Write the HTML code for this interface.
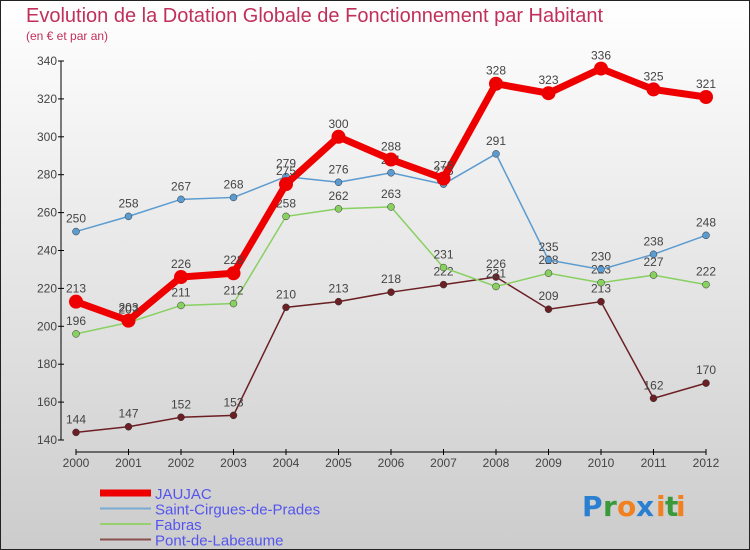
<!DOCTYPE html>
<html><head><meta charset="utf-8"><style>
body{margin:0;width:750px;height:550px;overflow:hidden;font-family:"Liberation Sans",sans-serif}
svg{display:block}
</style></head><body>
<svg id="c" width="750" height="550" xmlns="http://www.w3.org/2000/svg">
<defs><linearGradient id="bg" x1="0" y1="0" x2="0" y2="1"><stop offset="0" stop-color="#ffffff"/><stop offset="1" stop-color="#cccccc"/></linearGradient></defs>
<rect x="0.5" y="0.5" width="749" height="549" fill="url(#bg)" stroke="#222"/>
<text x="26" y="22" font-size="20" fill="#c0305a">Evolution de la Dotation Globale de Fonctionnement par Habitant</text>
<text x="26" y="40" font-size="12" fill="#c0305a">(en € et par an)</text>
<g id="axes"></g><g id="series"></g><g id="legend"></g>
<g font-size="28" font-family="'DejaVu Sans',sans-serif" font-weight="bold">
<text x="582" y="516" fill="#2a7fd0">P</text><text x="603" y="516" fill="#3a9a3a">r</text><text x="617" y="516" fill="#f08020">o</text><text x="636" y="516" fill="#2a7fd0">x</text><text x="656" y="516" fill="#f08020">i</text><text x="665" y="516" fill="#3a9a3a">t</text><text x="676" y="516" fill="#f08020">i</text>
</g>
</svg>
<script>
const years=[2000,2001,2002,2003,2004,2005,2006,2007,2008,2009,2010,2011,2012];
const jaujac=[213,203,226,228,275,300,288,278,328,323,336,325,321];
const saint=[250,258,267,268,279,276,281,275,291,235,230,238,248];
const fabras=[196,202,211,212,258,262,263,231,221,228,223,227,222];
const pont=[144,147,152,153,210,213,218,222,226,209,213,162,170];
const yTicks=[140,160,180,200,220,240,260,280,300,320,340];
const NS="http://www.w3.org/2000/svg";
const X=i=>76+i*52.5, Y=v=>440-(v-140)*1.895;
function mk(t,a,p){const e=document.createElementNS(NS,t);for(const k in a)e.setAttribute(k,a[k]);p.appendChild(e);return e;}
const ax=document.getElementById('axes');
let l=mk('line',{x1:61,y1:61,x2:61,y2:440,stroke:'#000'},ax);


l=mk('line',{x1:76,y1:452,x2:706,y2:452,stroke:'#000'},ax);


yTicks.forEach(v=>{mk('line',{x1:58,x2:64,y1:Y(v),y2:Y(v),stroke:'#000'},ax);
 const t=mk('text',{x:57,y:Y(v)+4,'font-size':12,fill:'#444','text-anchor':'end'},ax);t.textContent=v;
 
 });
years.forEach((y,i)=>{mk('line',{x1:X(i),x2:X(i),y1:449,y2:455,stroke:'#000'},ax);
 const t=mk('text',{x:X(i),y:467,'font-size':12,fill:'#444','text-anchor':'middle'},ax);t.textContent=y;
 
 });
const S=[[pont,'#6b1f24',1.5,3.5,'pont-de-labeaume'],[fabras,'#88d060',1.5,3.5,'fabras'],[saint,'#5b9bd0',1.5,3.5,'saint-cirgues-de-prades'],[jaujac,'#ee0000',7,7,'jaujac']];
const sg=document.getElementById('series');
S.forEach(([d,c,w,r,n])=>{const g=mk('g',{},sg);
 
 
 mk('polyline',{points:d.map((v,i)=>X(i)+','+Y(v)).join(' '),fill:'none',stroke:c,'stroke-width':w},g);
 d.forEach((v,i)=>{const p=mk('circle',{cx:X(i),cy:Y(v),r:r,fill:c,stroke:r<5?'#333':'none','stroke-width':0.5},g);
  
  
  const t=mk('text',{x:X(i),y:Y(v)-9,'font-size':12,fill:'#444','text-anchor':'middle'},g);t.textContent=v;
  
  });});
const lg=document.getElementById('legend');
[['JAUJAC','#ee0000',7],['Saint-Cirgues-de-Prades','#7aaad0',2],['Fabras','#98d070',2],['Pont-de-Labeaume','#8a5050',2]].forEach(([n,c,w],i)=>{
 const y=493+i*15.5;const g=mk('g',{},lg);
 
 
 mk('line',{x1:100,x2:151,y1:y,y2:y,stroke:c,'stroke-width':w},g);
 const t=mk('text',{x:155,y:y+6,'font-size':15,fill:'#5555ee'},g);t.textContent=n;});
</script></body></html>
